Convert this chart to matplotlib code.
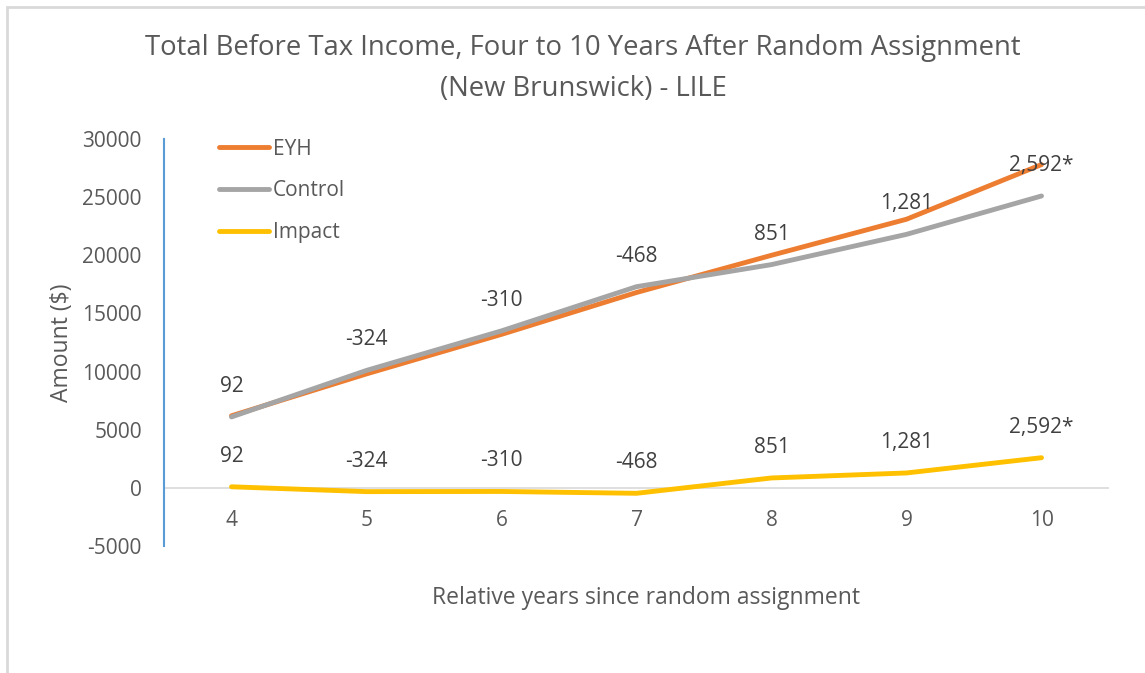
import matplotlib
matplotlib.use('Agg')
import matplotlib.pyplot as plt
from matplotlib.patches import Rectangle

years = [4, 5, 6, 7, 8, 9, 10]
eyh = [6200, 9800, 13200, 16800, 20000, 23100, 27800]
control = [6100, 10100, 13500, 17300, 19200, 21800, 25100]
impact = [92, -324, -310, -468, 851, 1281, 2592]
impact_labels = ['92', '-324', '-310', '-468', '851', '1,281', '2,592*']

plt.rcParams['font.family'] = ['Open Sans', 'DejaVu Sans']
plt.rcParams['axes.unicode_minus'] = False

fig = plt.figure(figsize=(11.45, 6.73), dpi=100)
ax = fig.add_axes([164 / 1145, 127 / 673, 945 / 1145, 407 / 673])

# chart border
fig.patches.append(Rectangle((7 / 1145, -0.1), 1.2, (666 / 673) + 0.1,
                             transform=fig.transFigure, fill=False,
                             edgecolor='#D9D9D9', linewidth=2))

ax.axhline(0, color='#D9D9D9', lw=1.2, zorder=1)
ax.plot(years, eyh, color='#ED7D31', lw=3.5, solid_capstyle='round', label='EYH', zorder=3)
ax.plot(years, control, color='#A5A5A5', lw=3.5, solid_capstyle='round', label='Control', zorder=3)
ax.plot(years, impact, color='#FFC000', lw=3.5, solid_capstyle='round', label='Impact', zorder=3)

# impact values shown above the control line and above the impact line
for x, yc, yi, lab in zip(years, control, impact, impact_labels):
    ax.annotate(lab, (x, yc), xytext=(0, 22), textcoords='offset points',
                ha='center', va='center', fontsize=15, color='#404040', zorder=4)
    ax.annotate(lab, (x, yi), xytext=(0, 22), textcoords='offset points',
                ha='center', va='center', fontsize=15, color='#404040', zorder=4)

ax.set_xlim(3.5, 10.5)
ax.set_ylim(-5000, 30000)
ax.set_yticks(range(-5000, 30001, 5000))
ax.set_xticks(years)
ax.tick_params(axis='both', length=0, labelsize=15, labelcolor='#595959')
ax.tick_params(axis='y', pad=16)
ax.tick_params(axis='x', pad=-26)
for s in ['top', 'right', 'bottom']:
    ax.spines[s].set_visible(False)
ax.spines['left'].set_color('#5B9BD5')
ax.spines['left'].set_linewidth(1.5)

ax.set_ylabel('Amount ($)', fontsize=16.5, color='#595959', labelpad=6)
fig.text(646 / 1145, 1 - 598 / 673, 'Relative years since random assignment',
         ha='center', va='center', fontsize=16.5, color='#595959')
fig.text(583 / 1145, 1 - 48 / 673, 'Total Before Tax Income, Four to 10 Years After Random Assignment',
         ha='center', va='center', fontsize=19.8, color='#595959')
fig.text(583 / 1145, 1 - 89 / 673, '(New Brunswick) - LILE',
         ha='center', va='center', fontsize=19.8, color='#595959')

leg = ax.legend(loc='upper left', bbox_to_anchor=(0.038, 1.047), frameon=False,
                fontsize=15, labelcolor='#595959', handlelength=2.4,
                handletextpad=0.2, labelspacing=1.0)

fig.savefig('out.png', dpi=100)
